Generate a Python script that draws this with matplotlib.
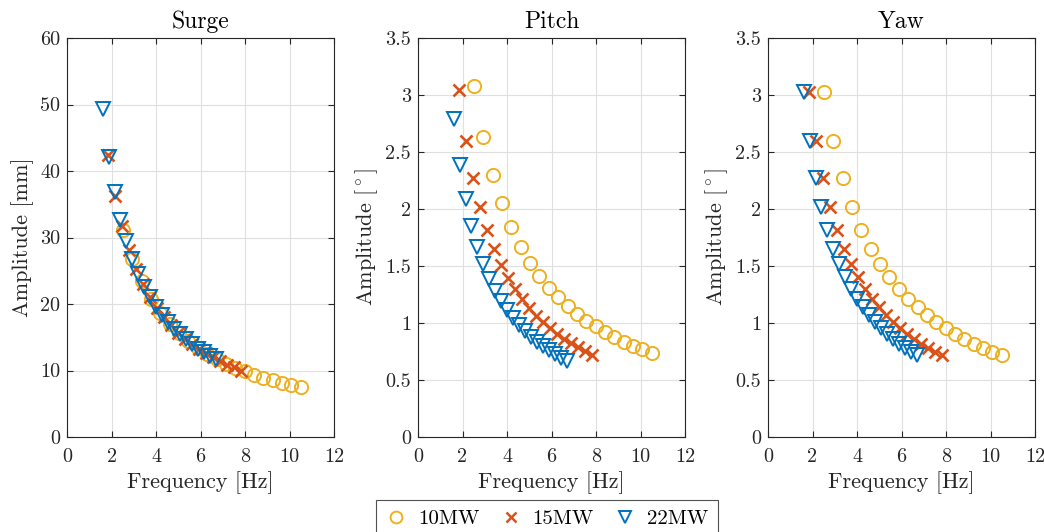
import matplotlib
matplotlib.use("Agg")
import matplotlib.pyplot as plt
from matplotlib.lines import Line2D

plt.rcParams['font.family'] = 'cmr10'
plt.rcParams['mathtext.fontset'] = 'cm'
plt.rcParams['axes.formatter.use_mathtext'] = True

# Frequencies [Hz]
f10 = [2.52, 2.94, 3.36, 3.78, 4.20, 4.62, 5.04, 5.46, 5.88, 6.30,
       6.72, 7.14, 7.56, 7.98, 8.40, 8.82, 9.24, 9.66, 10.08, 10.50]
f15 = [1.85, 2.16, 2.48, 2.79, 3.11, 3.42, 3.73, 4.05, 4.36, 4.68,
       4.99, 5.30, 5.62, 5.93, 6.25, 6.56, 6.87, 7.19, 7.50, 7.82]
f22 = [1.60, 1.87, 2.14, 2.40, 2.67, 2.94, 3.21, 3.48, 3.74, 4.01,
       4.28, 4.55, 4.82, 5.08, 5.35, 5.62, 5.89, 6.16, 6.42, 6.69]

# Surge amplitudes [mm]
surge10 = [31.2, 26.8, 23.4, 20.8, 18.7, 17.0, 15.6, 14.4, 13.4, 12.5,
           11.7, 11.0, 10.4, 9.85, 9.35, 8.9, 8.5, 8.13, 7.8, 7.5]
surge15 = [42.4, 36.3, 31.7, 28.1, 25.3, 23.0, 21.0, 19.4, 18.0, 16.8,
           15.7, 14.8, 14.0, 13.2, 12.6, 12.0, 11.4, 10.9, 10.5, 10.0]
surge22 = [49.3, 42.1, 36.8, 32.7, 29.4, 26.8, 24.5, 22.6, 21.0, 19.6,
           18.4, 17.3, 16.3, 15.5, 14.7, 14.0, 13.3, 12.8, 12.2, 11.7]

# Pitch amplitudes [deg]
pitch10 = [3.08, 2.63, 2.30, 2.05, 1.84, 1.67, 1.53, 1.415, 1.31, 1.225,
           1.15, 1.08, 1.02, 0.97, 0.92, 0.875, 0.835, 0.80, 0.77, 0.737]
pitch15 = [3.04, 2.60, 2.27, 2.02, 1.82, 1.65, 1.51, 1.395, 1.30, 1.21,
           1.13, 1.065, 1.005, 0.953, 0.905, 0.862, 0.822, 0.786, 0.754, 0.72]
pitch22 = [2.79, 2.39, 2.09, 1.85, 1.67, 1.515, 1.39, 1.285, 1.19, 1.11,
           1.045, 0.98, 0.93, 0.88, 0.835, 0.795, 0.76, 0.727, 0.695, 0.667]

# Yaw amplitudes [deg]
yaw10 = [3.03, 2.60, 2.27, 2.02, 1.82, 1.65, 1.515, 1.40, 1.30, 1.21,
         1.14, 1.07, 1.01, 0.956, 0.906, 0.863, 0.82, 0.78, 0.75, 0.72]
yaw15 = list(yaw10)
yaw22 = list(yaw10)

series_labels = ['10MW', '15MW', '22MW']
colors = ['#EDB120', '#D95319', '#0072BD']
markers = ['o', 'x', 'v']

titles = ['Surge', 'Pitch', 'Yaw']
ylabels = ['Amplitude [mm]', r'Amplitude [$^\circ$]', r'Amplitude [$^\circ$]']
ylims = [(0, 60), (0, 3.5), (0, 3.5)]
yticks = [[0, 10, 20, 30, 40, 50, 60], [0, 0.5, 1, 1.5, 2, 2.5, 3, 3.5], [0, 0.5, 1, 1.5, 2, 2.5, 3, 3.5]]
xticks = [0, 2, 4, 6, 8, 10, 12]

data = [
    [(f10, surge10), (f15, surge15), (f22, surge22)],
    [(f10, pitch10), (f15, pitch15), (f22, pitch22)],
    [(f10, yaw10), (f15, yaw15), (f22, yaw22)],
]

W, H = 1044, 532
fig = plt.figure(figsize=(W/100, H/100), dpi=100)
lefts = [67, 418, 768]
aw = 267
top, bottom = 38, 437

axes = []
for i in range(3):
    ax = fig.add_axes([lefts[i]/W, 1 - bottom/H, aw/W, (bottom - top)/H])
    axes.append(ax)
    for (x, y), c, m, lab in zip(data[i], colors, markers, series_labels):
        if m == 'x':
            ax.plot(x, y, linestyle='none', marker=m, color=c, markersize=8,
                    markeredgewidth=1.9, label=lab)
        else:
            ax.plot(x, y, linestyle='none', marker=m, markerfacecolor='none',
                    markeredgecolor=c, markersize=9.5 if m == 'o' else 10,
                    markeredgewidth=1.4, label=lab)
    ax.set_xlim(0, 12)
    ax.set_ylim(*ylims[i])
    ax.set_xticks(xticks)
    ax.set_yticks(yticks[i])
    ax.set_yticklabels([('%g' % v) for v in yticks[i]])
    ax.set_xticklabels([('%g' % v) for v in xticks])
    ax.grid(True, color='#DFDFDF', linewidth=0.8)
    ax.set_axisbelow(True)
    ax.tick_params(direction='in', top=True, right=True, length=4, width=0.8,
                   color='#262626', labelsize=14.5, labelcolor='#262626')
    ax.tick_params(axis='x', pad=8)
    ax.tick_params(axis='y', pad=5)
    for s in ax.spines.values():
        s.set_color('#262626')
        s.set_linewidth(0.8)
    ax.set_title(titles[i], fontsize=17, color='#000000', pad=7)
    ax.set_xlabel('Frequency [Hz]', fontsize=16, color='#262626', labelpad=4)
    ax.set_ylabel(ylabels[i], fontsize=16, color='#262626', labelpad=4)

handles = [Line2D([], [], linestyle='none', marker=m, color=c,
                  markerfacecolor='none' if m != 'x' else c,
                  markeredgecolor=c, markersize=8.5 if m != 'x' else 7,
                  markeredgewidth=1.8 if m == 'x' else 1.4)
           for m, c in zip(markers, colors)]
leg = fig.legend(handles, series_labels, loc='center', ncol=3,
                 bbox_to_anchor=(547/W, 1 - 519/H), fontsize=15,
                 frameon=True, fancybox=False, edgecolor='#262626',
                 borderpad=0.45, handletextpad=0.55, columnspacing=1.0,
                 handlelength=1.0)
leg.get_frame().set_linewidth(0.8)

fig.savefig('out.png', dpi=100)
